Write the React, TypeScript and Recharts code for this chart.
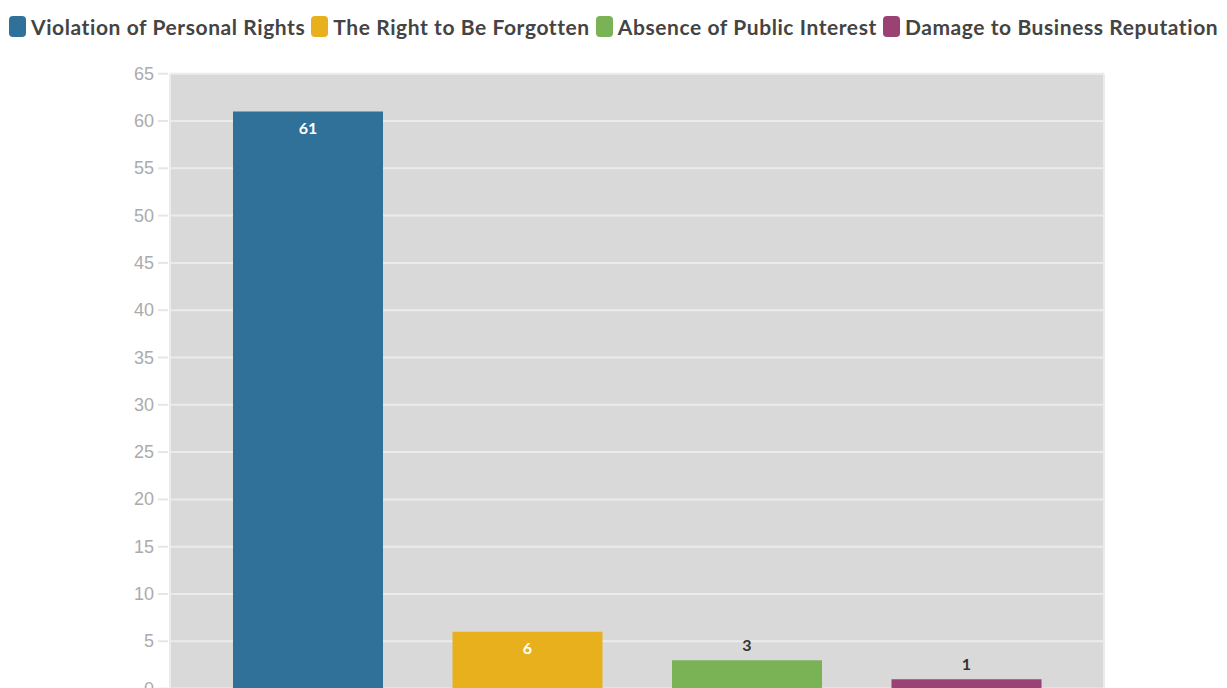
import { BarChart, Bar, XAxis, YAxis, CartesianGrid, Cell, LabelList } from "recharts";

const categories = [
  "Violation of Personal Rights",
  "The Right to Be Forgotten",
  "Absence of Public Interest",
  "Damage to Business Reputation",
];
const counts = [61, 6, 3, 1];
const colors = ["#2f7199", "#e9b01e", "#7ab356", "#9b4274"];
const yTicks = [0, 5, 10, 15, 20, 25, 30, 35, 40, 45, 50, 55, 60, 65];

const data = categories.map((name, i) => ({ name, value: counts[i] }));

function YTick(props: any) {
  const { x, y, payload } = props;
  return (
    <g>
      <line x1={x - 12} x2={x - 2} y1={y} y2={y} stroke="#e6e6e6" strokeWidth={2} />
      <text
        x={x - 16}
        y={y}
        dy={6}
        textAnchor="end"
        fill="#ababab"
        fontSize={18}
        fontFamily="Liberation Sans, Arial, sans-serif"
      >
        {payload.value}
      </text>
    </g>
  );
}

function ValueLabel(props: any) {
  const { x, y, width, value } = props;
  const inside = value >= 5;
  return (
    <text
      x={x + width / 2}
      y={inside ? y + 16 : y - 15}
      dy={6}
      textAnchor="middle"
      fill={inside ? "#ffffff" : "#333333"}
      fontSize={16}
      fontWeight="bold"
      fontFamily="Lato, sans-serif"
    >
      {value}
    </text>
  );
}

export default function App() {
  return (
    <div style={{ position: "absolute", left: 0, top: 0, width: 1227, height: 688, overflow: "hidden", background: "#fff" }}>
      <div
        style={{
          position: "absolute",
          left: 9,
          top: 14,
          display: "flex",
          alignItems: "center",
          fontFamily: "Lato, sans-serif",
          fontWeight: 700,
          fontSize: 21,
          letterSpacing: 0.58,
          color: "#444",
          whiteSpace: "nowrap",
        }}
      >
        {categories.map((c, i) => (
          <div key={c} style={{ display: "flex", alignItems: "center", marginRight: 6 }}>
            <span
              style={{
                display: "inline-block",
                width: 17,
                height: 21,
                borderRadius: 4,
                background: colors[i],
                marginRight: 5,
              }}
            />
            <span>{c}</span>
          </div>
        ))}
      </div>
      <div style={{ position: "absolute", left: 0, top: 0 }}>
        <BarChart
          width={1227}
          height={760}
          data={data}
          margin={{ top: 73.7, right: 123, bottom: 41.4, left: 0 }}
        >
          <CartesianGrid
            fill="#d9d9d9"
            stroke="#ebebeb"
            strokeWidth={2}
            verticalCoordinatesGenerator={(p: any) => [p.offset.left, p.offset.left + p.offset.width]}
          />
          <XAxis
            dataKey="name"
            height={30}
            tick={false}
            tickLine={false}
            axisLine={false}
            padding={{ left: 28, right: 28 }}
          />
          <YAxis
            width={170}
            domain={[0, 65]}
            ticks={yTicks}
            interval={0}
            tickSize={0}
            tickMargin={0}
            axisLine={false}
            tick={<YTick />}
          />
          <Bar dataKey="value" barSize={150} isAnimationActive={false}>
            {data.map((d, i) => (
              <Cell key={d.name} fill={colors[i]} />
            ))}
            <LabelList dataKey="value" content={<ValueLabel />} />
          </Bar>
        </BarChart>
      </div>
    </div>
  );
}
